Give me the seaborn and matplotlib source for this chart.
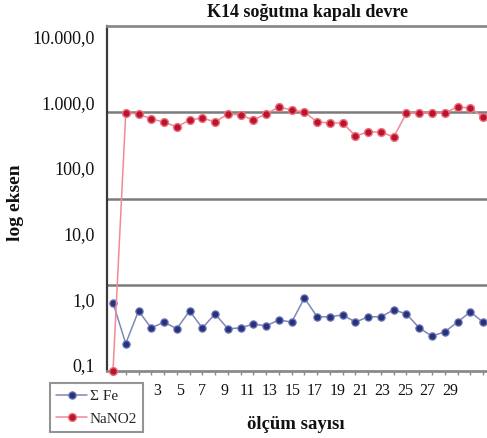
import matplotlib
matplotlib.use("Agg")
import matplotlib.pyplot as plt
from matplotlib.lines import Line2D
import seaborn as sns
import pandas as pd

# Measurement index and readings
olcum = list(range(1, 31))
fe_values = [0.97, 0.25, 0.74, 0.42, 0.51, 0.41, 0.74, 0.42, 0.67, 0.41,
             0.42, 0.48, 0.45, 0.55, 0.51, 1.14, 0.61, 0.61, 0.65, 0.51,
             0.61, 0.61, 0.77, 0.67, 0.42, 0.32, 0.37, 0.51, 0.72, 0.51]
nano2_values = [0.1, 548, 531, 449, 406, 344, 434, 464, 406, 531,
                513, 434, 531, 670, 606, 567, 406, 393, 393, 255,
                291, 291, 246, 548, 548, 548, 548, 670, 648, 480]

y_ticks = [0.1, 1, 10, 100, 1000, 10000]
y_tick_labels = ["0,1", "1,0", "10,0", "100,0", "1.000,0", "10.000,0"]
x_tick_labels = [3, 5, 7, 9, 11, 13, 15, 17, 19, 21, 23, 25, 27, 29]
guide_levels = [1.78, 31.6, 562]

sns.set_theme(style="white")
plt.rcParams["font.family"] = ["Liberation Serif", "DejaVu Serif"]

df = pd.DataFrame({"olcum": olcum, "Fe": fe_values, "NaNO2": nano2_values})

fig = plt.figure(figsize=(4.87, 4.38), dpi=100)
ax = fig.add_axes([0.2197, 0.153, 0.7803, 0.7877])

fe_line = "#8088b4"
fe_face = "#27327e"
fe_edge = "#6a74b0"
no_line = "#f08a94"
no_face = "#b8142c"
no_edge = "#f07080"

for lvl in guide_levels:
    ax.axhline(lvl, color="#7c7c7c", lw=1.8, zorder=1)

sns.lineplot(data=df, x="olcum", y="Fe", ax=ax, color=fe_line, lw=1.1,
             marker="o", markersize=5.2, markerfacecolor=fe_face,
             markeredgecolor=fe_edge, markeredgewidth=0.9,
             zorder=3, clip_on=False)
sns.lineplot(data=df, x="olcum", y="NaNO2", ax=ax, color=no_line, lw=1.1,
             marker="o", markersize=5.6, markerfacecolor=no_face,
             markeredgecolor=no_edge, markeredgewidth=1.0,
             zorder=4, clip_on=False)

ax.set_yscale("log")
ax.set_ylim(0.1, 10000)
ax.set_yticks([])
ax.minorticks_off()

ax.set_xlim(0.53, 30.31)
ax.set_xticks(olcum)
ax.set_xticklabels([])
ax.tick_params(axis="x", length=3, width=1, color="#8a8a8a", direction="out")

ax.set_xlabel("")
ax.set_ylabel("")

ax.spines["right"].set_visible(False)
ax.spines["left"].set_color("#3a3a3a")
ax.spines["left"].set_linewidth(1.6)
ax.spines["bottom"].set_color("#8a8a8a")
ax.spines["bottom"].set_linewidth(2.0)
ax.spines["top"].set_color("#8a8a8a")
ax.spines["top"].set_linewidth(2.0)

# Value labels on a label-only log axis
ylab = ax.twinx()
ylab.set_yscale("log")
ylab.set_ylim(0.0809, 14500)
ylab.yaxis.set_ticks_position("left")
ylab.set_yticks(y_ticks)
ylab.set_yticklabels(y_tick_labels, fontsize=13)
ylab.minorticks_off()
ylab.tick_params(axis="y", length=0, pad=9, colors="#111111")
for s in ylab.spines.values():
    s.set_visible(False)

# Category labels on a label-only axis
lab = ax.twiny()
lab.set_xlim(-1.44, 32.28)
lab.xaxis.set_ticks_position("bottom")
lab.set_xticks(x_tick_labels)
lab.set_xticklabels([str(v) for v in x_tick_labels], fontsize=11.5)
lab.tick_params(axis="x", length=0, pad=9, colors="#111111")
for s in lab.spines.values():
    s.set_visible(False)

fig.text(0.632, 0.972, "K14 soğutma kapalı devre", ha="center", va="center",
         fontsize=13, fontweight="bold", color="#111111")
fig.text(0.032, 0.537, "log eksen", ha="center", va="center", rotation=90,
         fontsize=14, fontweight="bold", color="#111111")
fig.text(0.608, 0.03, "ölçüm sayısı", ha="center", va="center",
         fontsize=13.5, fontweight="bold", color="#111111")

handles = [
    Line2D([], [], color=fe_line, lw=1.1, marker="o", markersize=5.2,
           markerfacecolor=fe_face, markeredgecolor=fe_edge,
           markeredgewidth=0.9),
    Line2D([], [], color=no_line, lw=1.1, marker="o", markersize=5.6,
           markerfacecolor=no_face, markeredgecolor=no_edge,
           markeredgewidth=1.0),
]
leg = fig.legend(handles, ["Σ Fe", "NaNO2"], loc="lower left",
                 bbox_to_anchor=(0.103, 0.014), fontsize=11,
                 frameon=True, fancybox=False, handlelength=2.0,
                 handletextpad=0.2, borderpad=0.4, labelspacing=0.6,
                 borderaxespad=0)
leg.get_frame().set_edgecolor("#7a7a7a")
leg.get_frame().set_linewidth(1.5)

fig.savefig("out.png", dpi=100)
